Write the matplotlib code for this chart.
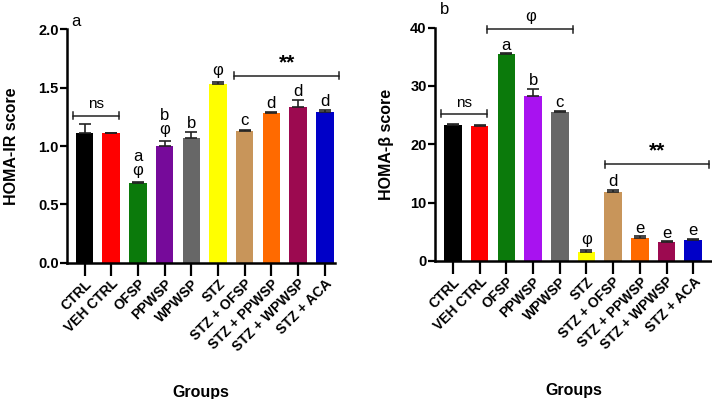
import matplotlib
matplotlib.use("Agg")
import matplotlib.pyplot as plt

plt.rcParams['font.family'] = ['Liberation Sans', 'DejaVu Sans']

groups = ['CTRL', 'VEH CTRL', 'OFSP', 'PPWSP', 'WPWSP', 'STZ',
          'STZ + OFSP', 'STZ + PPWSP', 'STZ + WPWSP', 'STZ + ACA']

# HOMA-IR (panel a)
ir_mean = [1.11, 1.11, 0.68, 1.00, 1.07, 1.53, 1.13, 1.28, 1.33, 1.29]
ir_err = [0.08, 0.005, 0.015, 0.045, 0.05, 0.015, 0.01, 0.01, 0.06, 0.02]
ir_letters = ['', '', 'a\nφ', 'b\nφ', 'b', 'φ', 'c', 'd', 'd', 'd']

# HOMA-beta (panel b)
b_mean = [23.3, 23.1, 35.4, 28.3, 25.5, 1.5, 11.9, 3.9, 3.3, 3.6]
b_err = [0.1, 0.2, 0.2, 1.2, 0.2, 0.3, 0.3, 0.3, 0.1, 0.15]
b_letters = ['', '', 'a', 'b', 'c', 'φ', 'd', 'e', 'e', 'e']

colors_ir = ['#000000', '#ff0000', '#0b7a0b', '#760a9a', '#676767', '#ffff00',
             '#c8955a', '#ff6a00', '#9c0a50', '#0000c8']
colors_b = ['#000000', '#ff0000', '#0b7a0b', '#a812f0', '#676767', '#ffff00',
            '#c8955a', '#ff6a00', '#9c0a50', '#0000c8']

fig = plt.figure(figsize=(7.12, 3.99), dpi=100)
ax1 = fig.add_axes([0.094, 0.341, 0.376, 0.586])
ax2 = fig.add_axes([0.611, 0.346, 0.389, 0.585])

x = list(range(len(groups)))


def style(ax):
    for s in ['top', 'right']:
        ax.spines[s].set_visible(False)
    for s in ['left', 'bottom']:
        ax.spines[s].set_linewidth(1.8)
    ax.tick_params(axis='y', width=1.6, length=5, labelsize=10.5, pad=1)
    ax.tick_params(axis='x', width=1.6, length=9, labelsize=10, pad=1)
    ax.set_xticks(x)
    ax.set_xticklabels(groups, rotation=45, ha='right', rotation_mode='anchor',
                       fontweight='bold')
    for lab in ax.get_yticklabels():
        lab.set_fontweight('bold')
    ax.set_xlabel('Groups', fontsize=11.5, fontweight='bold', labelpad=22)


def bracket(ax, x0, x1, y, h):
    ax.plot([x0, x0, x1, x1], [y - h, y, y, y - h], color='#222222', lw=1.1,
            clip_on=False)
    ax.plot([x0, x0], [y, y + h], color='#222222', lw=1.1, clip_on=False)
    ax.plot([x1, x1], [y, y + h], color='#222222', lw=1.1, clip_on=False)


# panel a
ax1.bar(x, ir_mean, width=0.66, color=colors_ir)
ax1.errorbar(x, ir_mean, yerr=[[0] * 10, ir_err], fmt='none', ecolor='#222222',
             elinewidth=1.2, capsize=4, capthick=1.2)
ax1.set_ylim(0, 2.0)
ax1.set_xlim(-0.66, 9.37)
ax1.set_yticks([0.0, 0.5, 1.0, 1.5, 2.0])
ax1.set_yticklabels(['0.0', '0.5', '1.0', '1.5', '2.0'])
ax1.set_ylabel('HOMA-IR score', fontsize=11.5, fontweight='bold', labelpad=14)
style(ax1)
for i in x:
    if ir_letters[i]:
        off = 0.035 if 'φ' in ir_letters[i] else 0.01
        ax1.text(i, ir_mean[i] + ir_err[i] + off, ir_letters[i], ha='center',
                 va='bottom', fontsize=12, linespacing=0.9)
bracket(ax1, -0.45, 1.3, 1.26, 0.03)
ax1.text(0.43, 1.30, 'ns', ha='center', va='bottom', fontsize=11)
bracket(ax1, 5.6, 9.53, 1.60, 0.03)
ax1.text(7.58, 1.63, '**', ha='center', va='bottom', fontsize=15, fontweight='bold')
fig.text(0.107, 0.945, 'a', fontsize=12, ha='center', va='center')

# panel b
ax2.bar(x, b_mean, width=0.66, color=colors_b)
ax2.errorbar(x, b_mean, yerr=[[0] * 10, b_err], fmt='none', ecolor='#222222',
             elinewidth=1.2, capsize=4, capthick=1.2)
ax2.set_ylim(0, 40)
ax2.set_xlim(-0.67, 9.7)
ax2.set_yticks([0, 10, 20, 30, 40])
ax2.set_ylabel('HOMA-β score', fontsize=11.5, fontweight='bold', labelpad=12)
style(ax2)
for i in x:
    if b_letters[i]:
        off = 0.6 if b_letters[i] == 'φ' else 0.1
        ax2.text(i, b_mean[i] + b_err[i] + off, b_letters[i], ha='center',
                 va='bottom', fontsize=12)
bracket(ax2, -0.44, 1.29, 25.2, 0.6)
ax2.text(0.43, 25.9, 'ns', ha='center', va='bottom', fontsize=11)
bracket(ax2, 1.29, 4.5, 39.7, 0.6)
ax2.text(2.9, 40.6, 'φ', ha='center', va='bottom', fontsize=12, clip_on=False)
bracket(ax2, 5.7, 9.6, 16.6, 0.6)
ax2.text(7.66, 17.2, '**', ha='center', va='bottom', fontsize=15, fontweight='bold')
fig.text(0.625, 0.975, 'b', fontsize=12, ha='center', va='center')

fig.savefig('out.png', dpi=100)
